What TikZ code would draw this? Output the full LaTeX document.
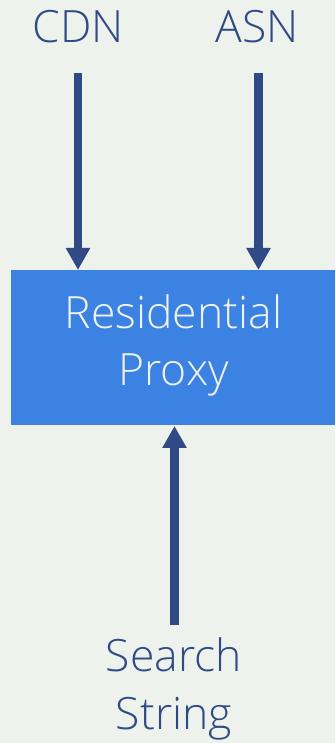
\documentclass[tikz,border=0pt]{standalone}
\usepackage{fontspec}
\setmainfont{Open Sans}[UprightFont=* Light]
\usetikzlibrary{arrows.meta}
\definecolor{bg}{HTML}{EDF2EC}
\definecolor{ink}{HTML}{2F4A84}
\definecolor{boxblue}{HTML}{3B82E3}
\tikzset{
  lbl/.style={text=ink, font=\fontsize{44.5}{57.5}\selectfont, align=center, inner sep=0pt},
  flow/.style={draw=ink, line width=8.5pt, -{Triangle[width=23pt,length=22pt]}},
  proxybox/.style={fill=boxblue, text=bg, font=\fontsize{44.5}{57}\selectfont, align=center, inner sep=0pt}
}
\begin{document}
\begin{tikzpicture}[x=1pt,y=1pt]
  \fill[bg] (0,0) rectangle (335,743);
  \useasboundingbox (0,0) rectangle (335,743);
  % central box
  \fill[boxblue] (11,318) rectangle (335,473);
  \node[proxybox, text width=300pt, anchor=base] (proxy) at (173.5,414) {Residential\\Proxy};
  \coordinate (ptopL) at (78,473);
  \coordinate (ptopR) at (258.5,473);
  \coordinate (pbot) at (174.5,317);
  % labels
  \node[lbl, anchor=base] (cdn) at (78,700) {CDN};
  \node[lbl, anchor=base] (asn) at (257,700) {ASN};
  \node[lbl, anchor=base, text width=250pt] (search) at (174,71) {Search\\String};
  \coordinate (cdnfoot) at (78,670);
  \coordinate (asnfoot) at (258.5,670);
  \coordinate (searchtop) at (174.5,118);
  % connectors
  \draw[flow] (cdnfoot) -- (ptopL);
  \draw[flow] (asnfoot) -- (ptopR);
  \draw[flow] (searchtop) -- (pbot);
\end{tikzpicture}
\end{document}
